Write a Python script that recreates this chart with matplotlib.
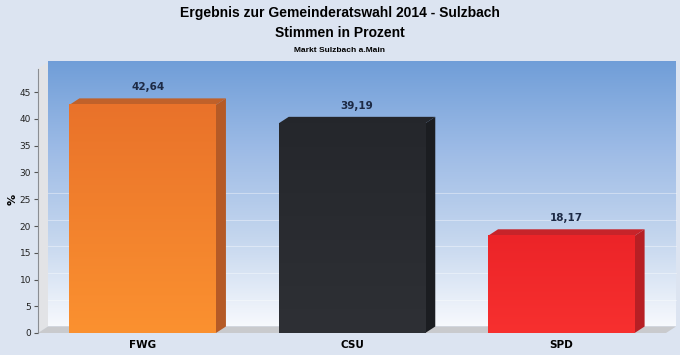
import matplotlib
matplotlib.use("Agg")
import matplotlib.pyplot as plt
import matplotlib.transforms as mtransforms
from matplotlib.patches import Polygon
import numpy as np

# data
parties = ["FWG", "CSU", "SPD"]
percent = [42.64, 39.19, 18.17]
labels = ["42,64", "39,19", "18,17"]
front_top = ["#e9722a", "#25272c", "#ec2428"]
front_bottom = ["#fb9130", "#2e3035", "#f7302f"]
side_colors = ["#b55a26", "#1b1d21", "#b71f24"]
top_colors = ["#c0612a", "#24262b", "#c7242a"]
yticks = [0, 5, 10, 15, 20, 25, 30, 35, 40, 45]

bg = "#dce4f1"
fig = plt.figure(figsize=(6.8, 3.55), dpi=100, facecolor=bg)
ax = fig.add_axes([38 / 680, 22 / 355, 628 / 680, 267.5 / 355])
ax.set_xlim(-0.5, 2.5)
ax.set_ylim(0, 50)
ax.patch.set_visible(False)

# 3d depth offset (inches)
ddx, ddy = 0.10, 0.065
back = ax.transData + mtransforms.ScaledTranslation(ddx, ddy, fig.dpi_scale_trans)
ytop = 49.4

# back wall with gradient
grad = np.linspace(0, 1, 256).reshape(-1, 1)
cmap = matplotlib.colors.LinearSegmentedColormap.from_list(
    "wall", ["#f7f9fd", "#c4d6ee", "#9dbbe6", "#709ed8"])
ax.imshow(grad, extent=(-0.5, 2.5, 0, ytop), origin="lower", aspect="auto",
          cmap=cmap, transform=back, zorder=0, clip_on=False)

# grid lines on the back wall
for v in [5, 10, 15, 20, 25]:
    ax.plot([-0.5, 2.5], [v, v], color="#ffffff", lw=0.6, alpha=0.45,
            transform=back, zorder=1, clip_on=False)

# left wall and floor
def depth_poly(p1, p2, color, z):
    a = ax.transData.transform([p1, p2])
    b = back.transform([p1, p2])
    ax.add_patch(Polygon([a[0], a[1], b[1], b[0]], closed=True,
                         facecolor=color, edgecolor="none",
                         transform=mtransforms.IdentityTransform(),
                         zorder=z, clip_on=False))

depth_poly((-0.5, 0), (-0.5, ytop), "#e2e3e6", 1)
depth_poly((-0.5, 0), (2.5, 0), "#c9cacd", 1)

# bars
width = 0.7
bars = ax.bar(range(len(parties)), percent, width=width, color=front_bottom,
              edgecolor="none", zorder=3)
for i, b in enumerate(bars):
    x0, x1, h = b.get_x(), b.get_x() + b.get_width(), b.get_height()
    bc = matplotlib.colors.LinearSegmentedColormap.from_list(
        "b%d" % i, [front_bottom[i], front_top[i]])
    ax.imshow(grad, extent=(x0, x1, 0, h), origin="lower", aspect="auto",
              cmap=bc, zorder=3.5)
    depth_poly((x1, 0), (x1, h), side_colors[i], 3)
    depth_poly((x0, h), (x1, h), top_colors[i], 3)
    ax.annotate(labels[i], (i, h), xytext=(ddx * 72 / 2, ddy * 72 + 8),
                textcoords="offset points", ha="center", va="center",
                fontsize=7.5, fontweight="bold", color="#1d2a45")

ax.set_xlim(-0.5, 2.5)
ax.set_ylim(0, 50)

for s in ["top", "right", "bottom"]:
    ax.spines[s].set_visible(False)
ax.spines["left"].set_color("#8a8d93")
ax.spines["left"].set_linewidth(0.8)
ax.spines["left"].set_bounds(0, ytop)

ax.set_yticks(yticks)
ax.tick_params(axis="y", length=3, color="#555555", labelsize=6.5,
               labelcolor="#222222", pad=2)
ax.set_xticks(range(len(parties)))
ax.set_xticklabels(parties, fontsize=7.5, fontweight="bold")
ax.tick_params(axis="x", length=0, pad=5)
ax.set_ylabel("%", fontsize=8, fontweight="bold")
ax.yaxis.set_label_coords(-20 / 628, 0.5)

tf = ["Liberation Sans", "DejaVu Sans"]
fig.text(0.5, 1 - 13 / 355, "Ergebnis zur Gemeinderatswahl 2014 - Sulzbach",
         ha="center", va="center", fontsize=10, fontweight="bold", family=tf)
fig.text(0.5, 1 - 33 / 355, "Stimmen in Prozent", ha="center", va="center",
         fontsize=10, fontweight="bold", family=tf)
fig.text(0.5, 1 - 51 / 355, "Markt Sulzbach a.Main", ha="center", va="center",
         fontsize=6, fontweight="bold", family=tf)

fig.savefig("out.png", dpi=100, facecolor=bg)
